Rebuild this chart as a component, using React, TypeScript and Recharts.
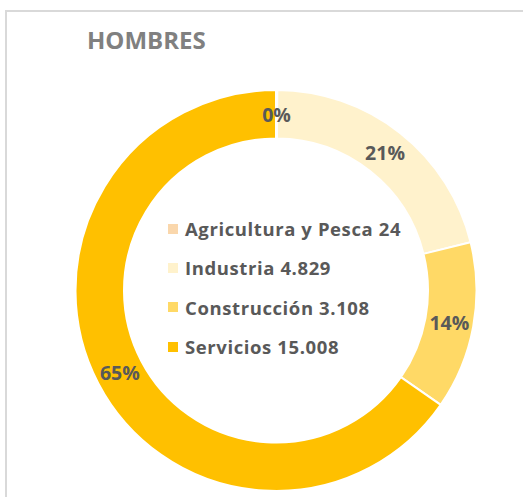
import React from 'react';
import { PieChart, Pie, Cell, Legend } from 'recharts';

const sectors = ['Agricultura y Pesca', 'Industria', 'Construcción', 'Servicios'];
const hombres = [24, 4829, 3108, 15008];
const sectorColors = ['#FAD7AC', '#FFF2CC', '#FFD966', '#FFC000'];

const FONT = '"Open Sans", Lato, sans-serif';
const RADIAN = Math.PI / 180;

const data = sectors.map((name, i) => ({ name, value: hombres[i] }));

// es-ES style thousands separator: 4829 -> 4.829
const fmt = (v: number) => v.toString().replace(/\B(?=(\d{3})+(?!\d))/g, '.');

const renderLabel = (props: any) => {
  const { cx, cy, midAngle, innerRadius, outerRadius, percent } = props;
  const r = (innerRadius + outerRadius) / 2;
  const x = cx + r * Math.cos(-midAngle * RADIAN);
  const y = cy + r * Math.sin(-midAngle * RADIAN);
  return (
    <text
      x={x}
      y={y}
      fill="#595959"
      textAnchor="middle"
      dominantBaseline="central"
      fontFamily={FONT}
      fontSize={19.5}
      fontWeight={700}
    >
      {`${Math.round(percent * 100)}%`}
    </text>
  );
};

const renderLegend = () => (
  <div style={{ fontFamily: FONT, fontWeight: 700, fontSize: 18.5, letterSpacing: 0.6, color: '#595959' }}>
    {data.map((d, i) => (
      <div key={d.name} style={{ display: 'flex', alignItems: 'center', height: 39.3 }}>
        <span
          style={{
            display: 'inline-block',
            width: 10,
            height: 10,
            background: sectorColors[i],
            marginRight: 7,
          }}
        />
        <span>{`${d.name} ${fmt(d.value)}`}</span>
      </div>
    ))}
  </div>
);

export default function App() {
  return (
    <div style={{ position: 'fixed', left: 0, top: 0, width: 523, height: 497, background: '#fff', overflow: 'hidden' }}>
      <div
        style={{
          position: 'absolute',
          left: 5,
          top: 10,
          width: 540,
          height: 520,
          borderLeft: '2px solid #D9D9D9',
          borderTop: '2px solid #D9D9D9',
        }}
      />
      <div
        style={{
          position: 'absolute',
          left: 87,
          top: 23,
          fontFamily: FONT,
          fontWeight: 700,
          fontSize: 24,
          lineHeight: '33px',
          color: '#808080',
        }}
      >
        HOMBRES
      </div>
      <div style={{ position: 'absolute', left: 0, top: 0 }}>
        <PieChart width={523} height={497}>
          <Pie
            data={data}
            dataKey="value"
            nameKey="name"
            cx={271}
            cy={285.5}
            innerRadius={152}
            outerRadius={200.5}
            startAngle={90}
            endAngle={-270}
            stroke="#fff"
            strokeWidth={2}
            label={renderLabel}
            labelLine={false}
            isAnimationActive={false}
          >
            {data.map((d, i) => (
              <Cell key={d.name} fill={sectorColors[i]} />
            ))}
          </Pie>
          <Legend
            content={renderLegend}
            layout="vertical"
            wrapperStyle={{ position: 'absolute', left: 168, top: 209, width: 300 }}
          />
        </PieChart>
      </div>
    </div>
  );
}
